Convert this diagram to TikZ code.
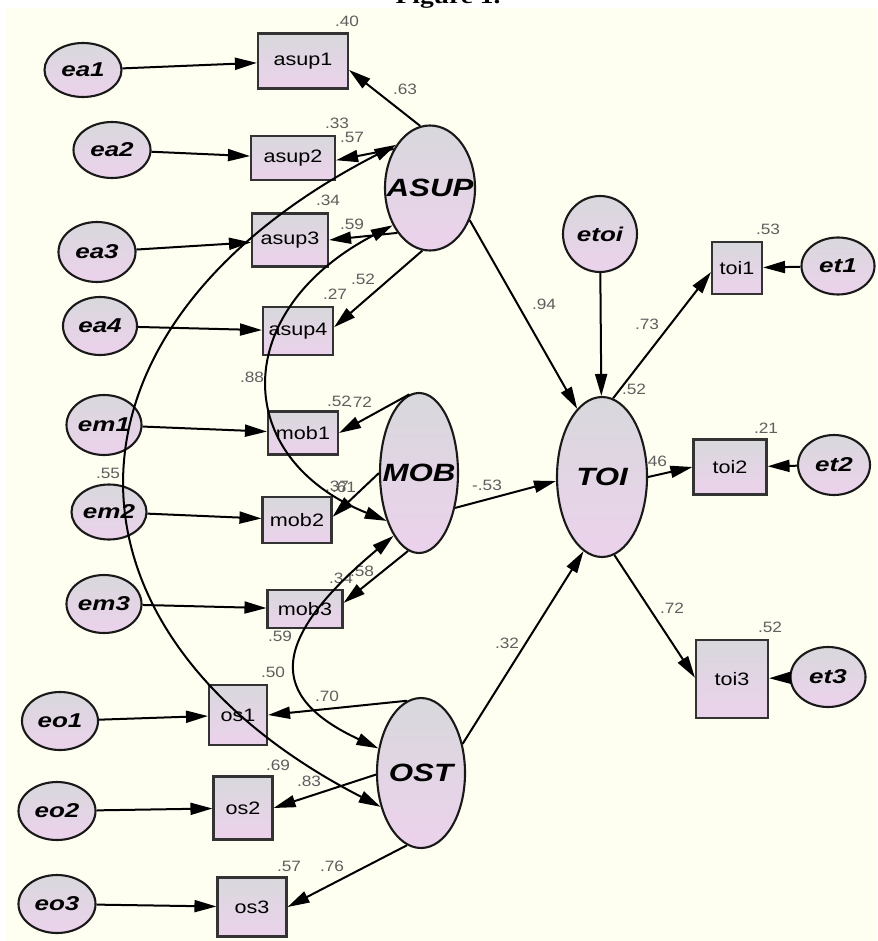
\documentclass[tikz,border=0pt]{standalone}
\usepackage{fontspec}
\usepackage{graphicx}
\setmainfont{Liberation Sans}
\newfontfamily\figfont{Liberation Serif}
\usetikzlibrary{shapes.geometric,arrows.meta}
\definecolor{bgcream}{RGB}{254,254,241}
\definecolor{topfill}{RGB}{216,216,220}
\definecolor{botfill}{RGB}{236,210,236}
\definecolor{lblgray}{RGB}{95,95,95}
\newcommand{\stx}[2]{\makebox[0pt]{\scalebox{#1}[1]{#2}}}
\newcommand{\cf}[1]{\scalebox{1.15}[1]{#1}}
\tikzset{
  shadefill/.style={top color=topfill, bottom color=botfill},
  errnode/.style={ellipse, draw=black!90, line width=2.1pt, shadefill, inner sep=0pt,
    font=\fontsize{20}{20}\selectfont\bfseries\itshape},
  latnode/.style={ellipse, draw=black!90, line width=2.1pt, shadefill, inner sep=0pt,
    font=\fontsize{25}{25}\selectfont\bfseries\itshape},
  obsnode/.style={rectangle, draw=black!80, line width=2.1pt, shadefill, inner sep=0pt,
    font=\fontsize{18}{18}\selectfont},
  coef/.style={text=lblgray, inner sep=0pt, font=\fontsize{15}{15}\selectfont},
  arr/.style={line width=2pt, -{Triangle[length=22pt,width=12pt]}},
  cov/.style={line width=2pt, {Triangle[length=22pt,width=12pt]}-{Triangle[length=22pt,width=12pt]}},
}
\begin{document}
\begin{tikzpicture}[x=1pt,y=-1pt]
\useasboundingbox (0,0) rectangle (877,941);
\fill[bgcream] (5,8) rectangle (877,941);
\node[anchor=base, inner sep=0pt, font=\figfont\bfseries\fontsize{22}{22}\selectfont] (figtitle) at (448,4) {\scalebox{1.25}[1]{Figure 1.}};

% coefficient labels
\node[coef] (c1) at (347,21) {\cf{.40}};
\node[coef] (c2) at (405,89) {\cf{.63}};
\node[coef] (c3) at (337,123) {\cf{.33}};
\node[coef] (c4) at (352,137) {\cf{.57}};
\node[coef] (c5) at (328,200) {\cf{.34}};
\node[coef] (c6) at (352,224) {\cf{.59}};
\node[coef] (c7) at (363,279) {\cf{.52}};
\node[coef] (c8) at (335,294) {\cf{.27}};
\node[coef] (c9) at (252,377) {\cf{.88}};
\node[coef] (c10) at (108,473) {\cf{.55}};
\node[coef] (c11) at (339,401) {\cf{.52}};
\node[coef] (c12) at (360,402) {\cf{.72}};
\node[coef] (c13) at (337,486) {\cf{.37}};
\node[coef] (c14) at (344,487) {\cf{.61}};
\node[coef] (c15) at (341,578) {\cf{.34}};
\node[coef] (c16) at (362,571) {\cf{.58}};
\node[coef] (c17) at (280,636) {\cf{.59}};
\node[coef] (c18) at (273,672) {\cf{.50}};
\node[coef] (c19) at (327,696) {\cf{.70}};
\node[coef] (c20) at (278,765) {\cf{.69}};
\node[coef] (c21) at (309,781) {\cf{.83}};
\node[coef] (c22) at (289,866) {\cf{.57}};
\node[coef] (c23) at (332,866) {\cf{.76}};
\node[coef] (c24) at (544,304) {\cf{.94}};
\node[coef] (c25) at (647,324) {\cf{.73}};
\node[coef] (c26) at (768,229) {\cf{.53}};
\node[coef] (c27) at (634,389) {\cf{.52}};
\node[coef] (c28) at (766,428) {\cf{.21}};
\node[coef] (c29) at (655,461) {\cf{.46}};
\node[coef] (c30) at (487,485) {\cf{-.53}};
\node[coef] (c31) at (672,608) {\cf{.72}};
\node[coef] (c32) at (770,627) {\cf{.52}};
\node[coef] (c33) at (507,643) {\cf{.32}};

% error terms
\node[errnode, minimum width=77pt, minimum height=54pt] (ea1) at (83,70) {\stx{1.3}{ea1}};
\node[errnode, minimum width=77pt, minimum height=56pt] (ea2) at (112,150) {\stx{1.3}{ea2}};
\node[errnode, minimum width=77pt, minimum height=60pt] (ea3) at (97,252) {\stx{1.3}{ea3}};
\node[errnode, minimum width=74pt, minimum height=58pt] (ea4) at (100,326) {\stx{1.3}{ea4}};
\node[errnode, minimum width=75pt, minimum height=60pt] (em1) at (104,425) {\stx{1.3}{em1}};
\node[errnode, minimum width=75pt, minimum height=55pt] (em2) at (109,512) {\stx{1.3}{em2}};
\node[errnode, minimum width=75pt, minimum height=58pt] (em3) at (104,604) {\stx{1.3}{em3}};
\node[errnode, minimum width=76pt, minimum height=58pt] (eo1) at (60,721) {\stx{1.3}{eo1}};
\node[errnode, minimum width=77pt, minimum height=58pt] (eo2) at (57,811) {\stx{1.3}{eo2}};
\node[errnode, minimum width=77pt, minimum height=58pt] (eo3) at (57,904) {\stx{1.3}{eo3}};
\node[errnode, minimum width=74pt, minimum height=76pt] (etoi) at (600,234) {\stx{1.3}{etoi}};
\node[errnode, minimum width=73pt, minimum height=57pt] (et1) at (838,266) {\stx{1.3}{et1}};
\node[errnode, minimum width=72pt, minimum height=60pt] (et2) at (834,465) {\stx{1.3}{et2}};
\node[errnode, minimum width=75pt, minimum height=60pt] (et3) at (828,677) {\stx{1.3}{et3}};

% observed variables
\node[obsnode, minimum width=90pt, minimum height=55pt] (asup1) at (303,61) {\stx{1.2}{asup1}};
\node[obsnode, minimum width=84pt, minimum height=44pt] (asup2) at (293,158) {\stx{1.2}{asup2}};
\node[obsnode, minimum width=76pt, minimum height=53pt] (asup3) at (290,240) {\stx{1.2}{asup3}};
\node[obsnode, minimum width=70pt, minimum height=48pt] (asup4) at (298,331) {\stx{1.2}{asup4}};
\node[obsnode, minimum width=70pt, minimum height=43pt] (mob1) at (303,433) {\stx{1.2}{mob1}};
\node[obsnode, minimum width=69pt, minimum height=46pt] (mob2) at (297,520) {\stx{1.2}{mob2}};
\node[obsnode, minimum width=75pt, minimum height=38pt] (mob3) at (305,609) {\stx{1.2}{mob3}};
\node[obsnode, minimum width=58pt, minimum height=60pt] (os1) at (238,715) {\stx{1.2}{os1}};
\node[obsnode, minimum width=59pt, minimum height=63pt] (os2) at (243,808) {\stx{1.2}{os2}};
\node[obsnode, minimum width=69pt, minimum height=59pt] (os3) at (252,907) {\stx{1.2}{os3}};
\node[obsnode, minimum width=50pt, minimum height=52pt] (toi1) at (737,268) {\stx{1.2}{toi1}};
\node[obsnode, minimum width=73pt, minimum height=55pt] (toi2) at (730,467) {\stx{1.2}{toi2}};
\node[obsnode, minimum width=72pt, minimum height=78pt] (toi3) at (732,679) {\stx{1.2}{toi3}};

% latent variables
\node[latnode, minimum width=90pt, minimum height=125pt] (ASUP) at (430,188) {\stx{1.25}{ASUP}};
\node[latnode, minimum width=78pt, minimum height=160pt] (MOB) at (419,473) {\stx{1.25}{MOB}};
\node[latnode, minimum width=90pt, minimum height=160pt] (TOI) at (602,477) {\stx{1.25}{TOI}};
\node[latnode, minimum width=88pt, minimum height=150pt] (OST) at (421,773) {\stx{1.25}{OST}};

% error arrows
\draw[arr] (ea1) -- (asup1);
\draw[arr] (ea2) -- (asup2);
\draw[arr] (ea3) -- (asup3);
\draw[arr] (ea4) -- (asup4);
\draw[arr] (em1) -- (mob1);
\draw[arr] (em2) -- (mob2);
\draw[arr] (em3) -- (mob3);
\draw[arr] (eo1) -- (os1);
\draw[arr] (eo2) -- (os2);
\draw[arr] (eo3) -- (os3);
\draw[arr] (et1) -- (toi1);
\draw[arr] (et2) -- (toi2);
\draw[arr] (et3) -- (toi3);
\draw[arr] (etoi) -- (TOI);

% loadings and paths
\draw[arr] (ASUP.99) -- (asup1.-11);
\draw[arr] (ASUP.133) -- (asup2.-3);
\draw[arr] (ASUP.234) -- (asup3.east);
\draw[arr] (ASUP.263) -- (asup4.6);
\draw[arr] (ASUP.-39) -- (TOI.110);
\draw[arr] (MOB.97) -- (mob1.east);
\draw[arr] (MOB.180) -- (mob2.5);
\draw[arr] (MOB.262) -- (mob3.9);
\draw[arr] (MOB.-44) -- (TOI.185);
\draw[arr] (OST.35) -- (TOI.256);
\draw[arr] (OST.101) -- (os1.east);
\draw[arr] (OST.182) -- (os2.east);
\draw[arr] (OST.259) -- (os3.east);
\draw[arr] (TOI.82) -- (toi1.189);
\draw[arr] (TOI.0) -- (toi2.west);
\draw[arr] (TOI.-81) -- (toi3.178);

% covariances
\draw[cov] (ASUP.128) .. controls (41,327) and (41,632) .. (OST.220);
\draw[cov] (ASUP.225) .. controls (230,310) and (230,458) .. (MOB.236);
\draw[cov] (MOB.248) .. controls (268,641) and (268,697) .. (OST.150);
\end{tikzpicture}
\end{document}
